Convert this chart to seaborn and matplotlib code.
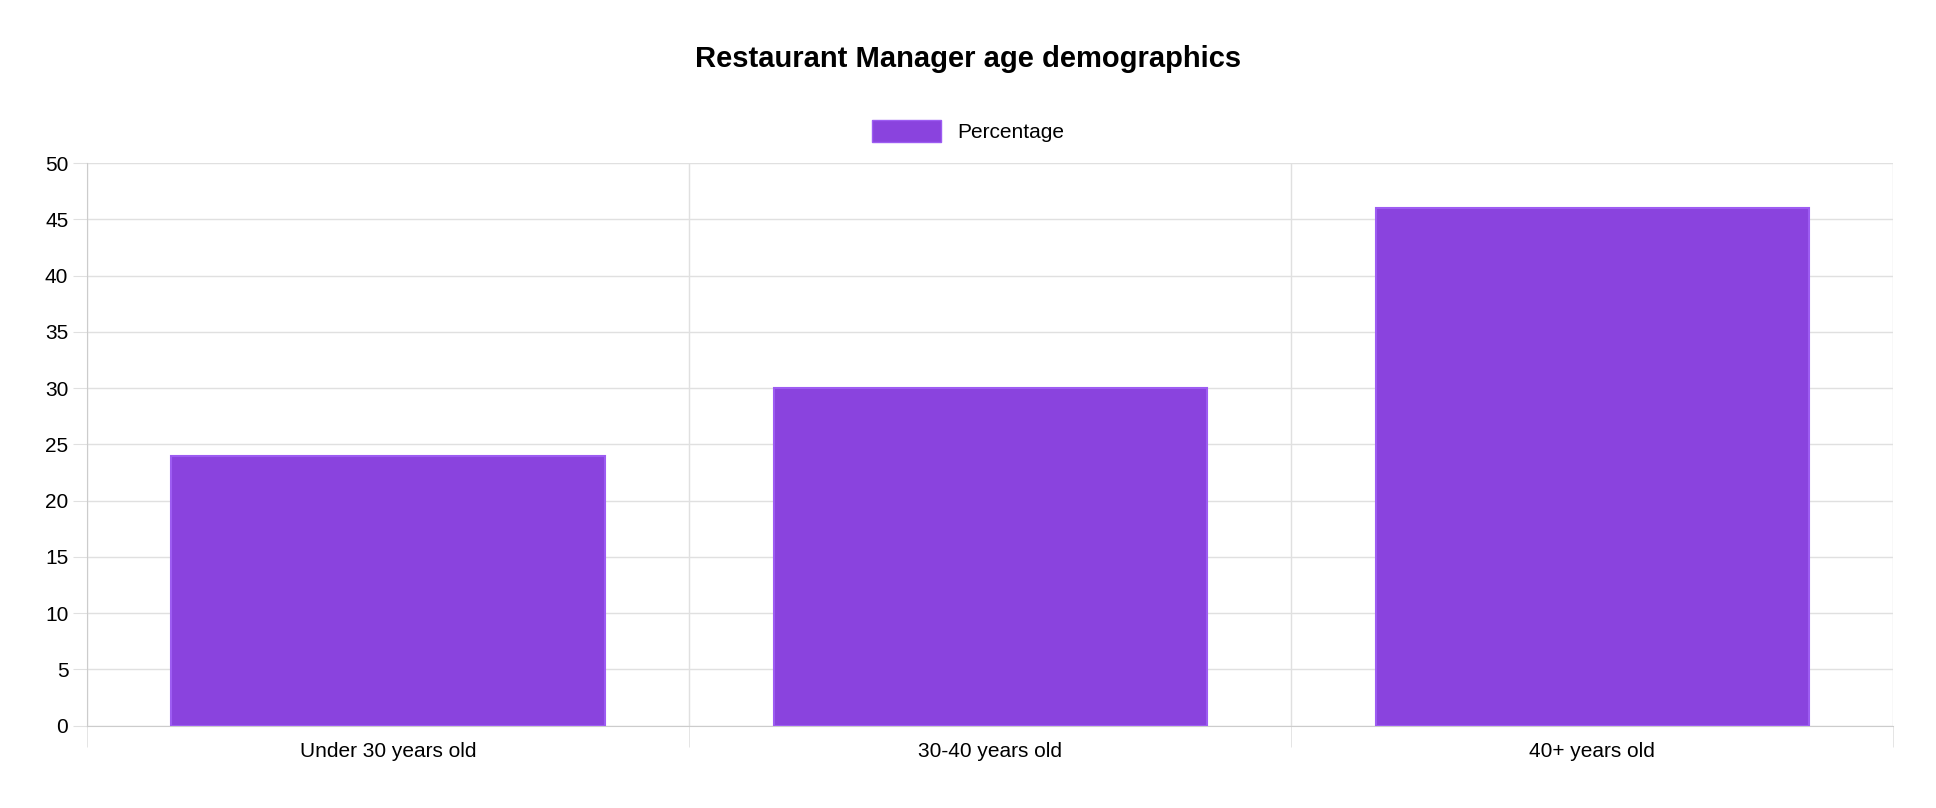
import matplotlib
matplotlib.use("Agg")
import matplotlib.pyplot as plt
import seaborn as sns
import pandas as pd
from matplotlib.patches import Patch

categories = ["Under 30 years old", "30-40 years old", "40+ years old"]
values = [24, 30, 46]
yticks = [0, 5, 10, 15, 20, 25, 30, 35, 40, 45, 50]

df = pd.DataFrame({"cat": categories, "val": values})
plt.rcParams["font.family"] = "Liberation Sans"
fig = plt.figure(figsize=(19.36, 8.08), dpi=100)
ax = fig.add_axes([0.045, 0.102, 0.933, 0.696])
sns.barplot(data=df, x="cat", y="val", color="#8A43DE", width=0.72, saturation=1,
            edgecolor="#9D5CF2", linewidth=1.5, ax=ax, zorder=3)
ax.set_xlim(-0.5, 2.5)
ax.set_ylim(0, 50)
ax.set_yticks(yticks)
ax.set_xticks([-0.5, 0.5, 1.5, 2.5], minor=True)
ax.grid(axis="y", color="#e0e0e0", linewidth=1, zorder=0)
ax.grid(axis="x", which="minor", color="#e0e0e0", linewidth=1, zorder=0)
ax.tick_params(axis="x", which="major", length=0, labelsize=15, pad=12)
ax.tick_params(axis="x", which="minor", length=15, color="#e0e0e0")
ax.tick_params(axis="y", length=10, color="#e0e0e0", labelsize=15)
ax.set_xlabel(""); ax.set_ylabel("")
for s in ["top", "right"]:
    ax.spines[s].set_visible(False)
for s in ["left", "bottom"]:
    ax.spines[s].set_color("#cccccc")
fig.text(0.5, 0.927, "Restaurant Manager age demographics", ha="center", va="center",
         fontsize=21, fontweight="bold")
fig.legend(handles=[Patch(facecolor="#8A43DE", edgecolor="#9D5CF2", label="Percentage")],
           loc="center", bbox_to_anchor=(0.5, 0.838), frameon=False, fontsize=15,
           handlelength=3.3, handleheight=1.3)
fig.savefig("out.png", dpi=100)
